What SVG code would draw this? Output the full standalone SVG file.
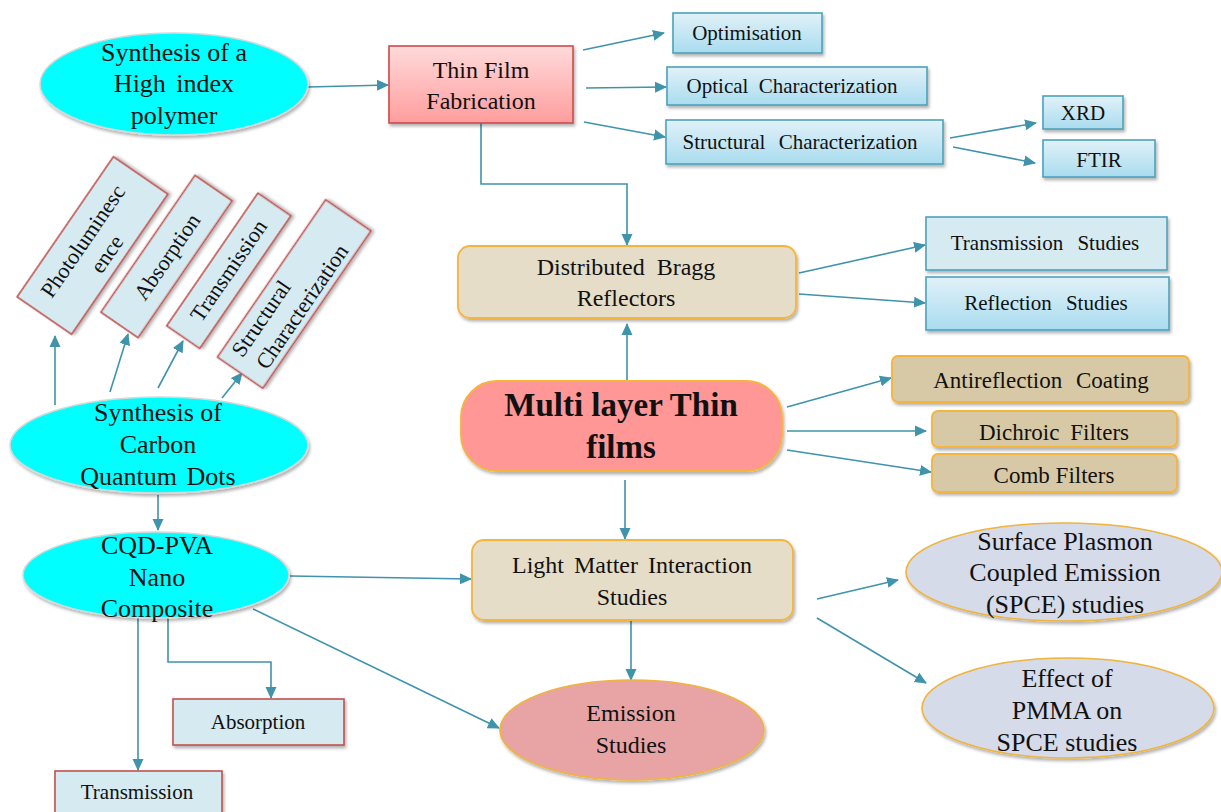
<svg xmlns="http://www.w3.org/2000/svg" width="1221" height="812" viewBox="0 0 1221 812">
<style>
text{font-family:"Liberation Serif","Times New Roman",serif;fill:#111;text-anchor:middle}
.t26{font-size:26px}
.t24{font-size:24px}
.t23{font-size:23px}
.t21{font-size:21px}
.t22{font-size:22px}
.bold{font-size:33px;font-weight:bold}
.conn line,.conn polyline{stroke:#3f93ab;stroke-width:1.6;fill:none;marker-end:url(#arr)}
.cyan{fill:#00ffff;stroke:#d8d8d8;stroke-width:1.5}
.blue{fill:url(#gBlue);stroke:#4ba3bc;stroke-width:1.6}
.pink{fill:url(#gPink);stroke:#cf4a4a;stroke-width:1.6}
.beige{fill:#e5ddc8;stroke:#f5b43a;stroke-width:1.8}
.tan{fill:#d8c9a6;stroke:#f5b43a;stroke-width:1.8}
.multi{fill:#ff9797;stroke:#f5b43a;stroke-width:1.8}
.emis{fill:#e8a4a5;stroke:#f0b43c;stroke-width:1.6}
.lav{fill:#d5dbe9;stroke:#f0b43c;stroke-width:1.6}
.redbox{fill:#d5eaf1;stroke:#c0504d;stroke-width:1.6}
</style>
<defs>
<linearGradient id="gBlue" x1="0" y1="0" x2="0" y2="1"><stop offset="0" stop-color="#e1f1f8"/><stop offset="1" stop-color="#a9dcef"/></linearGradient>
<linearGradient id="gPink" x1="0" y1="0" x2="0" y2="1"><stop offset="0" stop-color="#ffdada"/><stop offset="1" stop-color="#ff9d9d"/></linearGradient>
<filter id="sh" x="-10%" y="-10%" width="130%" height="140%"><feDropShadow dx="1.5" dy="2.5" stdDeviation="1.5" flood-color="#000" flood-opacity="0.3"/></filter>
<marker id="arr" markerUnits="userSpaceOnUse" markerWidth="12" markerHeight="12" refX="11" refY="6" orient="auto"><path d="M0,0.5 L12,6 L0,11.5 z" fill="#3f93ab"/></marker>
</defs>
<rect width="1221" height="812" fill="#fff"/>

<g class="conn">
<line x1="308" y1="87" x2="388" y2="85"/>
<line x1="583" y1="50" x2="664" y2="33"/>
<line x1="586" y1="88" x2="666" y2="87"/>
<line x1="584" y1="122" x2="665" y2="137"/>
<line x1="950" y1="138" x2="1036" y2="123"/>
<line x1="953" y1="147" x2="1035" y2="163"/>
<polyline points="481,123 481,184 627,184 627,245"/>
<line x1="799" y1="273" x2="925" y2="245"/>
<line x1="799" y1="294" x2="925" y2="303"/>
<line x1="627" y1="380" x2="627" y2="324"/>
<line x1="787" y1="407" x2="891" y2="378"/>
<line x1="787" y1="431" x2="926" y2="431"/>
<line x1="787" y1="450" x2="931" y2="472"/>
<line x1="625" y1="480" x2="625" y2="539"/>
<line x1="290" y1="576" x2="471" y2="579"/>
<line x1="631" y1="620" x2="631" y2="680"/>
<line x1="253" y1="609" x2="499" y2="728"/>
<line x1="817" y1="599" x2="898" y2="580"/>
<line x1="817" y1="618" x2="926" y2="683"/>
<line x1="158" y1="495" x2="158" y2="530"/>
<line x1="138" y1="618" x2="138" y2="770"/>
<polyline points="168,618 168,662 271,662 271,698"/>
<line x1="55" y1="405" x2="55" y2="336"/>
<line x1="110" y1="392" x2="128" y2="334"/>
<line x1="158" y1="388" x2="183" y2="341"/>
<line x1="222" y1="398" x2="242" y2="373"/>
</g>

<g id="n-polymer">
<ellipse class="cyan" cx="174" cy="84" rx="134" ry="51" filter="url(#sh)"/>
<text class="t26" x="174" y="61">Synthesis of a</text>
<text class="t26" x="174" y="92" word-spacing="4">High index</text>
<text class="t26" x="174" y="124">polymer</text>
</g>

<g id="n-thinfilm">
<rect class="pink" x="389" y="46" width="184" height="77" filter="url(#sh)"/>
<text class="t24" x="481" y="78">Thin Film</text>
<text class="t24" x="481" y="109">Fabrication</text>
</g>

<g id="n-optimisation">
<rect class="blue" x="673" y="13" width="149" height="40" filter="url(#sh)"/>
<text class="t21" x="747" y="40">Optimisation</text>
</g>
<g id="n-optical">
<rect class="blue" x="667" y="67" width="260" height="38" filter="url(#sh)"/>
<text class="t21" x="792" y="93" word-spacing="5">Optical Characterization</text>
</g>
<g id="n-structural">
<rect class="blue" x="666" y="120" width="277" height="44" filter="url(#sh)"/>
<text class="t21" x="800" y="149" word-spacing="8">Structural Characterization</text>
</g>
<g id="n-xrd">
<rect class="blue" x="1043" y="96" width="80" height="33" filter="url(#sh)"/>
<text class="t21" x="1083" y="120">XRD</text>
</g>
<g id="n-ftir">
<rect class="blue" x="1043" y="140" width="112" height="37" filter="url(#sh)"/>
<text class="t21" x="1099" y="167">FTIR</text>
</g>

<g id="n-dbr">
<rect class="beige" x="458" y="246" width="338" height="72" rx="12" filter="url(#sh)"/>
<text class="t24" x="626" y="275" word-spacing="6">Distributed Bragg</text>
<text class="t24" x="626" y="306">Reflectors</text>
</g>
<g id="n-transstudies">
<rect class="redbox" style="stroke:#4ba3bc" x="926" y="217" width="241" height="53" filter="url(#sh)"/>
<text class="t21" x="1045" y="250" word-spacing="9">Transmission Studies</text>
</g>
<g id="n-reflstudies">
<rect class="blue" x="926" y="277" width="243" height="53" filter="url(#sh)"/>
<text class="t21" x="1046" y="310" word-spacing="9">Reflection Studies</text>
</g>

<g id="n-multi">
<rect class="multi" x="461" y="381" width="321" height="90" rx="36" filter="url(#sh)"/>
<text class="bold" x="621" y="416">Multi layer Thin</text>
<text class="bold" x="621" y="458">films</text>
</g>

<g id="n-antirefl">
<rect class="tan" x="892" y="356" width="297" height="46" rx="6" filter="url(#sh)"/>
<text class="t23" x="1041" y="388" word-spacing="8">Antireflection Coating</text>
</g>
<g id="n-dichroic">
<rect class="tan" x="932" y="411" width="245" height="36" rx="6" filter="url(#sh)"/>
<text class="t23" x="1054" y="440" word-spacing="5">Dichroic Filters</text>
</g>
<g id="n-comb">
<rect class="tan" x="932" y="454" width="245" height="38" rx="6" filter="url(#sh)"/>
<text class="t23" x="1054" y="483">Comb Filters</text>
</g>

<g id="n-lmi">
<rect class="beige" x="472" y="540" width="321" height="80" rx="12" filter="url(#sh)"/>
<text class="t24" x="632" y="573" word-spacing="4">Light Matter Interaction</text>
<text class="t24" x="632" y="605">Studies</text>
</g>

<g id="n-spce">
<ellipse class="lav" cx="1064" cy="572" rx="158" ry="49" filter="url(#sh)"/>
<text class="t26" x="1065" y="550">Surface Plasmon</text>
<text class="t26" x="1065" y="581">Coupled Emission</text>
<text class="t26" x="1065" y="613">(SPCE) studies</text>
</g>
<g id="n-pmma">
<ellipse class="lav" cx="1068" cy="708" rx="146" ry="50" filter="url(#sh)"/>
<text class="t26" x="1067" y="687">Effect of</text>
<text class="t26" x="1067" y="719">PMMA on</text>
<text class="t26" x="1067" y="751">SPCE studies</text>
</g>

<g id="n-emission">
<ellipse class="emis" cx="632" cy="730" rx="132" ry="50" filter="url(#sh)"/>
<text class="t24" x="631" y="721">Emission</text>
<text class="t24" x="631" y="753">Studies</text>
</g>

<g id="n-cqd">
<ellipse class="cyan" cx="159" cy="445" rx="149" ry="48" filter="url(#sh)"/>
<text class="t26" x="158" y="421">Synthesis of</text>
<text class="t26" x="158" y="453">Carbon</text>
<text class="t26" x="158" y="485" word-spacing="3">Quantum Dots</text>
</g>

<g id="n-cqdpva">
<ellipse class="cyan" cx="156" cy="575" rx="133" ry="43" filter="url(#sh)"/>
<text class="t26" x="157" y="554">CQD-PVA</text>
<text class="t26" x="157" y="586">Nano</text>
<text class="t26" x="157" y="617">Composite</text>
</g>

<g id="n-absorption-b">
<rect class="redbox" x="173" y="699" width="171" height="46" filter="url(#sh)"/>
<text class="t21" x="258" y="729">Absorption</text>
</g>
<g id="n-transmission-b">
<rect class="redbox" x="55" y="771" width="167" height="50" filter="url(#sh)"/>
<text class="t21" x="137" y="799">Transmission</text>
</g>

<g id="n-photolum" transform="translate(92.5,245.5) rotate(-55.5)">
<rect class="redbox" x="-85" y="-33" width="170" height="66" filter="url(#sh)"/>
<text class="t22" x="-2" y="-3">Photoluminesc</text>
<text class="t22" x="1" y="24">ence</text>
</g>
<g id="n-absorption-r" transform="translate(166.5,256.5) rotate(-55.5)">
<rect class="redbox" x="-83" y="-22.5" width="166" height="45" filter="url(#sh)"/>
<text class="t22" x="0" y="8">Absorption</text>
</g>
<g id="n-transmission-r" transform="translate(228.8,270.8) rotate(-55.5)">
<rect class="redbox" x="-80.5" y="-20" width="161" height="40" filter="url(#sh)"/>
<text class="t22" x="0" y="7">Transmission</text>
</g>
<g id="n-structural-r" transform="translate(294.2,294) rotate(-55.5)">
<rect class="redbox" x="-95.5" y="-27.5" width="191" height="55" filter="url(#sh)"/>
<text class="t22" x="-39" y="-6">Structural</text>
<text class="t22" x="-6" y="21">Characterization</text>
</g>
</svg>
